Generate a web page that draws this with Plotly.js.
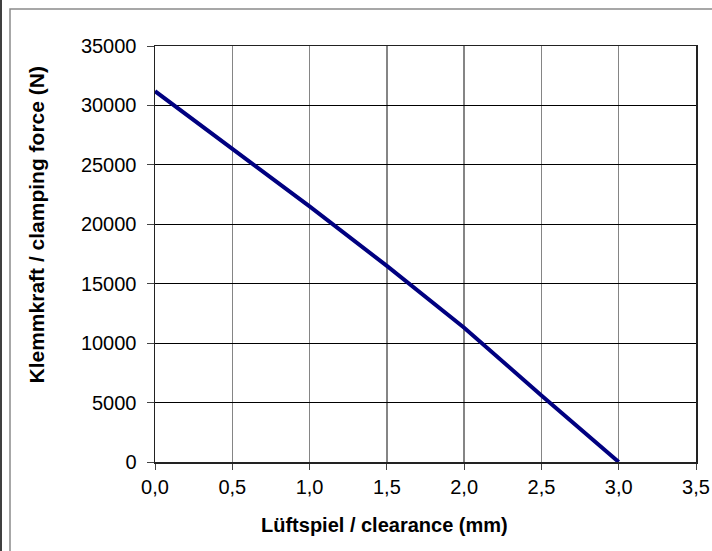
<!DOCTYPE html>
<html>
<head>
<meta charset="utf-8">
<script src="https://cdn.plot.ly/plotly-3.0.1.min.js"></script>
<style>html,body{margin:0;padding:0;background:#fff;}#chart{width:712px;height:551px;}</style>
</head>
<body>
<div id="chart"></div>
<script>
// Data
const clearance = [0, 0.5, 1.0, 1.5, 2.0, 2.5, 3.0];
const clampingForce = [31200, 26400, 21500, 16500, 11300, 5600, 0];
const xTickVals = [0, 0.5, 1.0, 1.5, 2.0, 2.5, 3.0, 3.5];
const xTickText = ["0,0", "0,5", "1,0", "1,5", "2,0", "2,5", "3,0", "3,5"];
const yTickVals = [0, 5000, 10000, 15000, 20000, 25000, 30000, 35000];
const yTickText = ["0", "5000", "10000", "15000", "20000", "25000", "30000", "35000"];
const xTitle = "Lüftspiel / clearance (mm)";
const yTitle = "Klemmkraft / clamping force (N)";

const L = 155, R = 16, T = 46, B = 89, W = 712, H = 551;
const pw = W - L - R, ph = H - T - B;
const px = v => (v - L) / pw;
const py = v => (H - B - v) / ph;

const font = "Liberation Sans, Arial, sans-serif";

const trace = {
  x: clearance, y: clampingForce, type: "scatter", mode: "lines",
  line: {color: "#000080", width: 4}, hoverinfo: "skip"
};

const layout = {
  width: W, height: H,
  margin: {l: L, r: R, t: T, b: B, pad: 0},
  paper_bgcolor: "#fff", plot_bgcolor: "#fff",
  showlegend: false,
  font: {family: font, color: "#000", size: 20},
  xaxis: {
    range: [0, 3.5], tickvals: xTickVals, ticktext: xTickText,
    showgrid: true, gridcolor: "#858585", gridwidth: 1.5,
    showline: true, linecolor: "#222", linewidth: 1.5, mirror: true,
    ticks: "outside", ticklen: 6, tickcolor: "#444", tickwidth: 1,
    zeroline: false, tickfont: {size: 20, family: font, color: "#000"}
  },
  yaxis: {
    range: [0, 35000], tickvals: yTickVals, ticktext: yTickText,
    showgrid: true, gridcolor: "#000", gridwidth: 1,
    showline: true, linecolor: "#222", linewidth: 1.5, mirror: true,
    ticks: "outside", ticklen: 7, tickcolor: "#444", tickwidth: 1,
    ticklabelstandoff: 6,
    zeroline: false, tickfont: {size: 20, family: font, color: "#000"}
  },
  annotations: [
    {text: "<b>" + xTitle + "</b>", xref: "paper", yref: "paper", x: px(384.5), y: py(525),
     xanchor: "center", yanchor: "middle", showarrow: false, font: {size: 20, family: font, color: "#000"}},
    {text: "<b>" + yTitle + "</b>", xref: "paper", yref: "paper", x: px(36), y: py(225.5),
     xanchor: "center", yanchor: "middle", textangle: -90, showarrow: false, font: {size: 21, family: font, color: "#000"}}
  ],
  shapes: [
    {type: "rect", xref: "paper", yref: "paper", x0: px(10), x1: px(720), y0: py(560), y1: py(9),
     line: {color: "#8a8a8a", width: 1.5}, fillcolor: "rgba(0,0,0,0)", layer: "below"},
    {type: "line", xref: "paper", yref: "paper", x0: px(1), x1: px(1), y0: py(560), y1: py(-5),
     line: {color: "#000", width: 1.5}}
  ]
};

Plotly.newPlot("chart", [trace], layout, {displayModeBar: false, staticPlot: true});
</script>
</body>
</html>
